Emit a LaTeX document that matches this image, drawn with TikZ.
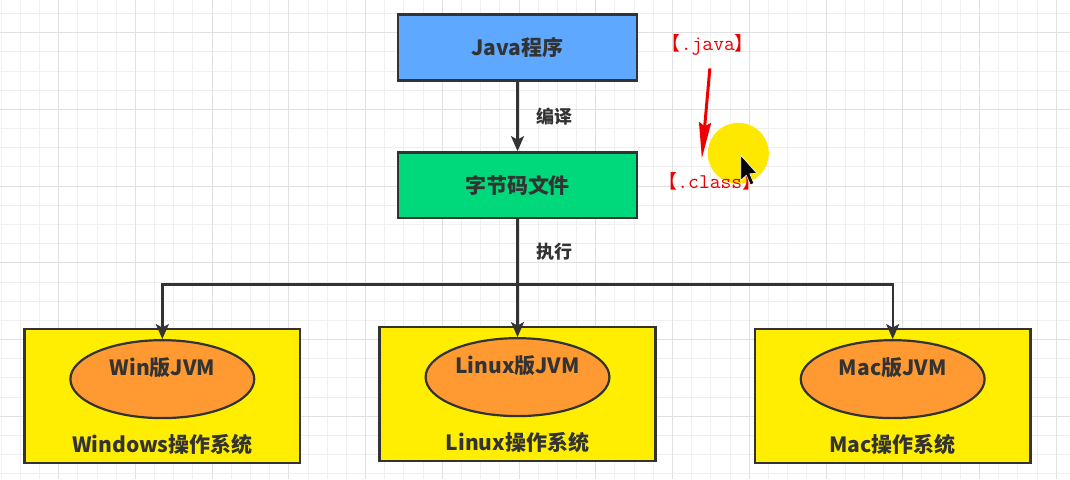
\documentclass[tikz,border=0pt]{standalone}
\usepackage{fontspec}
\setmainfont{Noto Sans CJK SC}
\usetikzlibrary{arrows.meta,calc,shapes.geometric}
\definecolor{ink}{HTML}{333333}
\definecolor{gridminor}{HTML}{EFEFEF}
\definecolor{gridmajor}{HTML}{E0E0E0}
\definecolor{source}{HTML}{5EA9FF}
\definecolor{bytecode}{HTML}{00D87C}
\definecolor{osbox}{HTML}{FFEE00}
\definecolor{jvm}{HTML}{FF9A33}
\definecolor{annot}{HTML}{EE0000}
\definecolor{spot}{HTML}{FFE800}

\begin{document}
\begin{tikzpicture}[x=1pt,y=-1pt,
  every node/.style={text=ink,font=\fontsize{21}{25}\selectfont\bfseries,inner sep=2pt},
  stage/.style={draw=ink,line width=2.4pt,minimum width=239pt,minimum height=66pt},
  platform/.style={draw=ink,line width=2.4pt,fill=osbox,minimum width=276pt,minimum height=134pt},
  engine/.style={ellipse,draw=ink,line width=2.2pt,fill=jvm,minimum width=184pt,minimum height=78pt,inner sep=0pt},
  flow/.style={-{Stealth[length=15pt,width=13pt,inset=3.5pt]},draw=ink,line width=2.4pt},
  step note/.style={font=\fontsize{18}{22}\selectfont\bfseries},
  ext note/.style={text=annot,font=\fontsize{19}{22}\selectfont,inner sep=0pt}]

% drawing canvas grid
\foreach \gx in {0,...,55}
  \draw[gridminor,line width=.9pt] ({0.6+19.2*\gx},0) -- ++(0,479);
\foreach \gy in {0,...,24}
  \draw[gridminor,line width=.9pt] (0,{13+19.2*\gy}) -- ++(1070,0);
\foreach \gx in {0,...,13}
  \draw[gridmajor,line width=.9pt] ({58.2+76.8*\gx},0) -- ++(0,479);
\foreach \gy in {0,...,5}
  \draw[gridmajor,line width=.9pt] (0,{32.2+76.8*\gy}) -- ++(1070,0);
\useasboundingbox (0,0) rectangle (1070,479);

\node[stage,fill=source] (java) at (517.5,47) {Java程序};
\node[stage,fill=bytecode] (code) at (517.5,185) {字节码文件};
\draw[flow] (java) -- (code) node[midway,right=16pt,step note] {编译};

\coordinate (split) at ($(code.south)+(0,65)$);
\draw[draw=ink,line width=2.4pt] (code) -- (split)
  node[midway,right=16pt,step note] {执行};

\node[platform] (winos) at (162,396) {};
\node[engine] (winjvm) at (162,379) {};
\node at ($(winjvm)+(0,-11)$) {Win版JVM};
\node at (162,444) {Windows操作系统};

\node[platform] (linuxos) at (517.5,394) {};
\node[engine] (linuxjvm) at (517.5,377) {};
\node at ($(linuxjvm)+(0,-11)$) {Linux版JVM};
\node at (517.5,442) {Linux操作系统};

\node[platform] (macos) at (893,396) {};
\node[engine] (macjvm) at (893,379) {};
\node at ($(macjvm)+(0,-11)$) {Mac版JVM};
\node at (893,444) {Mac操作系统};

\draw[flow] (split) -| (winjvm.north);
\draw[flow] (split) -- (linuxjvm.north);
\draw[flow] (split) -| (macjvm.north);

% hand-drawn remark with the pointer highlight
\fill[spot] (738.5,153) circle (30.5);
\node[ext note] (javanote) at (708,44) {【{\fontsize{21}{22}\selectfont\texttt{.java}}】};
\node[ext note] (classnote) at (710,181) {【{\fontsize{21}{22}\selectfont\texttt{.class}}】};
\coordinate (jtail) at (710,68);
\coordinate (ctip) at (702,158);
\draw[annot,line width=3pt,-{Stealth[length=36pt,width=12pt,inset=4pt]}] (jtail) -- (ctip);
\filldraw[fill=black,draw=white,line width=.6pt] (741,155) -- (741,180) -- (746.5,175)
  -- (750.5,184.5) -- (754,183) -- (750,173.5) -- (757,173) -- cycle;
\end{tikzpicture}
\end{document}
